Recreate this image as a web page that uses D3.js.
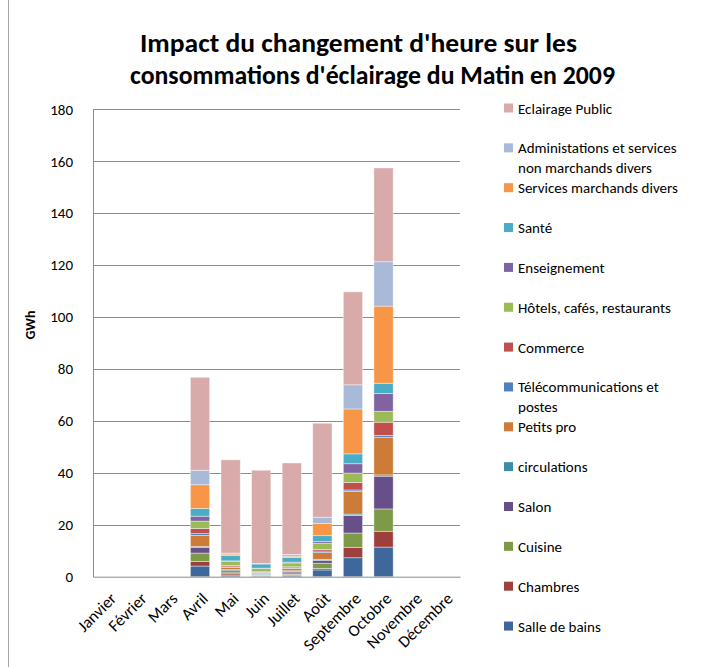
<!DOCTYPE html>
<html>
<head>
<meta charset="utf-8">
<script src="https://cdn.jsdelivr.net/npm/d3@7"></script>
<style>
  html, body { margin: 0; padding: 0; background: #fff; }
  svg { display: block; }
  text { font-family: Carlito, Lato, "Open Sans", sans-serif; fill: #000; }
</style>
</head>
<body>
<svg id="chart" width="709" height="667"></svg>
<script>
// Months on the category axis
const months = ["Janvier", "Février", "Mars", "Avril", "Mai", "Juin", "Juillet",
                "Août", "Septembre", "Octobre", "Novembre", "Décembre"];

// Stack order, from the bottom of each column upward (GWh)
const sallesDeBains  = [0, 0, 0, 4.1, 0.6, 0.2, 0.5, 2.6, 7.3, 11.4, 0, 0];
const chambres       = [0, 0, 0, 1.8, 0.5, 0.2, 0.4, 0.6, 4.0, 6.1, 0, 0];
const cuisine        = [0, 0, 0, 3.2, 0.7, 0.3, 0.6, 2.0, 5.5, 8.6, 0, 0];
const salon          = [0, 0, 0, 2.1, 0.5, 0.2, 0.5, 1.1, 6.8, 12.6, 0, 0];
const circulations   = [0, 0, 0, 0.4, 0.4, 0.3, 0.3, 0.4, 0.5, 0.5, 0, 0];
const petitsPro      = [0, 0, 0, 4.3, 0.9, 0.5, 0.9, 2.6, 8.8, 14.5, 0, 0];
const telecom        = [0, 0, 0, 0.7, 0.2, 0.1, 0.2, 0.6, 0.5, 0.7, 0, 0];
const commerce       = [0, 0, 0, 2.0, 0.5, 0.1, 0.4, 0.6, 2.9, 5.1, 0, 0];
const hotels         = [0, 0, 0, 2.8, 1.5, 1.3, 1.5, 2.4, 3.6, 4.2, 0, 0];
const enseignement   = [0, 0, 0, 1.9, 0.3, 0.1, 0.3, 0.6, 3.6, 6.9, 0, 0];
const sante          = [0, 0, 0, 3.0, 2.0, 1.6, 1.8, 2.3, 3.8, 3.9, 0, 0];
const servicesMarch  = [0, 0, 0, 9.1, 0.6, 0.1, 0.5, 4.7, 17.3, 29.7, 0, 0];
const administration = [0, 0, 0, 5.6, 0.4, 0.1, 0.7, 2.4, 9.3, 17.1, 0, 0];
const eclairagePublic= [0, 0, 0, 35.8, 35.9, 35.9, 35.2, 36.2, 35.8, 36.1, 0, 0];

const seriesNames = ["Salle de bains", "Chambres", "Cuisine", "Salon", "circulations",
  "Petits pro", "Télécommunications et postes", "Commerce", "Hôtels, cafés, restaurants",
  "Enseignement", "Santé", "Services marchands divers",
  "Administations et services non marchands divers", "Eclairage Public"];
const seriesValues = [sallesDeBains, chambres, cuisine, salon, circulations, petitsPro,
  telecom, commerce, hotels, enseignement, sante, servicesMarch, administration, eclairagePublic];
const seriesColors = ["#3E679B", "#9D403D", "#7E9A48", "#674F8A", "#3C8DA3", "#CC7B38",
  "#4F81BD", "#C0504D", "#9BBB59", "#8064A2", "#4BACC6", "#F79646", "#A9BAD8", "#D9AAAA"];
// Legend labels, split onto lines as they wrap in the legend
const legendLines = [["Salle de bains"], ["Chambres"], ["Cuisine"], ["Salon"], ["circulations"],
  ["Petits pro"], ["Télécommunications et", "postes"], ["Commerce"], ["Hôtels, cafés, restaurants"],
  ["Enseignement"], ["Santé"], ["Services marchands divers"],
  ["Administations et services", "non marchands divers"], ["Eclairage Public"]];

const yTicks = [0, 20, 40, 60, 80, 100, 120, 140, 160, 180];
const titleLines = ["Impact du changement d'heure sur les",
                    "consommations d'éclairage du Matin en 2009"];

const svg = d3.select("#chart");

// Outer chart frame (left edge)
svg.append("line").attr("x1", 8.5).attr("x2", 8.5).attr("y1", 0).attr("y2", 667)
  .attr("stroke", "#a6a6a6").attr("stroke-width", 1);

const plot = { left: 93, right: 460, top: 109.3, bottom: 576.7 };

const x = d3.scaleBand().domain(months).range([plot.left, plot.right])
  .paddingInner(0.37).paddingOuter(0.185);
const y = d3.scaleLinear().domain([0, 180]).range([plot.bottom, plot.top]);

// Horizontal gridlines
svg.append("g").selectAll("line").data(yTicks.filter(d => d > 0)).join("line")
  .attr("x1", plot.left).attr("x2", plot.right)
  .attr("y1", d => Math.round(y(d)) + 0.5).attr("y2", d => Math.round(y(d)) + 0.5)
  .attr("stroke", "#8c8c8c").attr("stroke-width", 1);

// Stacked columns
const table = months.map((m, i) => {
  const row = { month: m };
  seriesNames.forEach((s, k) => row[s] = seriesValues[k][i]);
  return row;
});
const stacked = d3.stack().keys(seriesNames)(table);

svg.append("g").selectAll("g").data(stacked).join("g")
  .attr("fill", (d, k) => seriesColors[k])
  .selectAll("rect").data(d => d.filter(p => p[1] - p[0] > 0)).join("rect")
  .attr("x", d => x(d.data.month))
  .attr("width", x.bandwidth())
  .attr("y", d => y(d[1]))
  .attr("height", d => y(d[0]) - y(d[1]))
  .attr("stroke", "#ffffff").attr("stroke-opacity", 0.55).attr("stroke-width", 0.75);

// Axes
const yAxis = svg.append("g").attr("transform", `translate(${plot.left},0)`)
  .call(d3.axisLeft(y).tickValues(yTicks).tickSize(0).tickPadding(20));
yAxis.select(".domain").attr("stroke", "#8c8c8c");
yAxis.selectAll("text").style("font-size", "15px").attr("fill", "#000")
  .attr("font-family", "Carlito, Lato, sans-serif");

const xAxis = svg.append("g").attr("transform", `translate(0,${plot.bottom})`)
  .call(d3.axisBottom(x).tickSize(0));
xAxis.select(".domain").attr("stroke", "#8c8c8c");
xAxis.selectAll("text")
  .style("font-size", "16.5px").attr("fill", "#000")
  .attr("font-family", "Carlito, Lato, sans-serif")
  .attr("text-anchor", "end")
  .attr("dy", null).attr("y", 0)
  .attr("transform", "translate(9,23) rotate(-45)");

// Y axis title
svg.append("text")
  .attr("transform", `translate(35,325) rotate(-90)`)
  .attr("text-anchor", "middle")
  .style("font-size", "14px").style("font-weight", "bold")
  .text("GWh");

// Chart title
const titleWidths = [437, 485];
svg.append("g").selectAll("text").data(titleLines).join("text")
  .attr("x", (d, i) => i === 0 ? 140 : 130)
  .attr("y", (d, i) => 52 + i * 32)
  .attr("textLength", (d, i) => titleWidths[i])
  .attr("lengthAdjust", "spacingAndGlyphs")
  .style("font-size", "26px").style("font-weight", "bold")
  .text(d => d);

// Legend, top entry is the last series
const legendTop = 108, legendStep = 39.85;
const legend = svg.append("g");
const entries = seriesNames.map((s, k) => k).reverse();
entries.forEach((k, j) => {
  const cy = legendTop + j * legendStep;
  legend.append("rect")
    .attr("x", 504).attr("y", cy - 4.5).attr("width", 9).attr("height", 9)
    .attr("fill", seriesColors[k]);
  const t = legend.append("text").attr("x", 518).attr("y", cy + 5.5)
    .style("font-size", "15px");
  legendLines[k].forEach((line, li) => {
    t.append("tspan").attr("x", 518).attr("dy", li === 0 ? 0 : 19.5).text(line);
  });
});
</script>
</body>
</html>
